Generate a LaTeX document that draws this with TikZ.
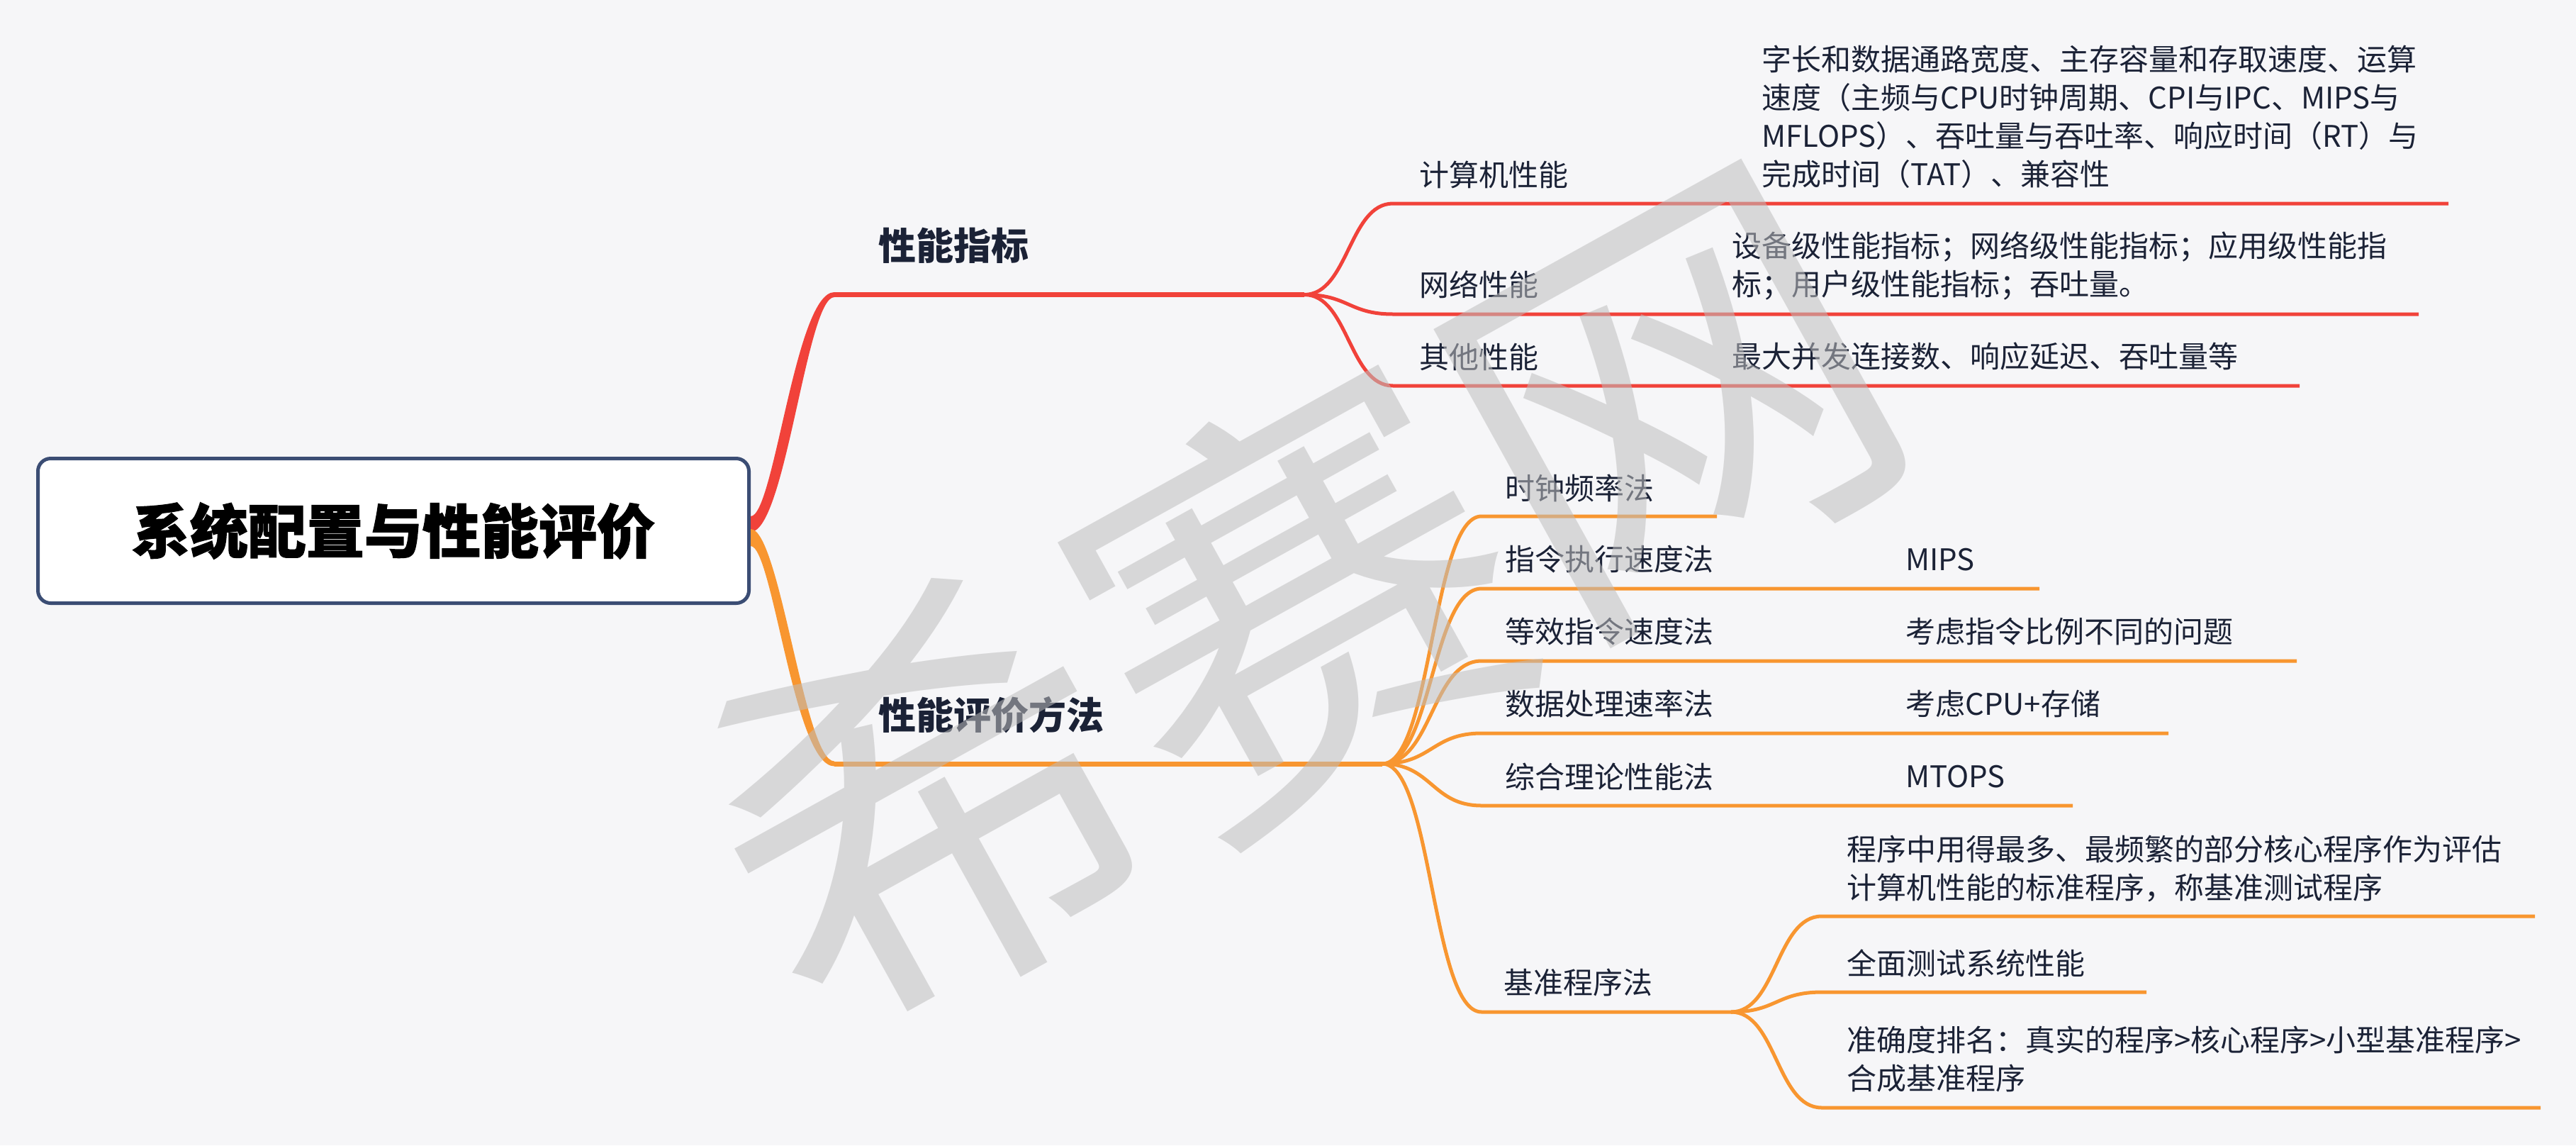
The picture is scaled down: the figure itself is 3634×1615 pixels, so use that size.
\documentclass[tikz,border=0pt]{standalone}
\usepackage{fontspec}
\setmainfont{Noto Sans CJK SC}
\usetikzlibrary{calc}
\definecolor{bgc}{RGB}{246,246,248}
\definecolor{redc}{RGB}{241,66,58}
\definecolor{orgc}{RGB}{248,150,48}
\definecolor{txtc}{RGB}{27,34,54}
\definecolor{boxc}{RGB}{59,77,116}
\definecolor{wmc}{RGB}{190,190,190}

\begin{document}
\begin{tikzpicture}[x=1pt, y=-1pt,
    rootbox/.style={draw=boxc, line width=5pt, fill=white, rounded corners=18pt,
        minimum width=1003pt, minimum height=204pt, inner sep=0pt,
        font=\bfseries\fontsize{82}{90}\selectfont\addfontfeature{FakeBold=1.6}},
    l1/.style={anchor=west, inner sep=0pt, text=txtc, font=\bfseries\fontsize{53}{60}\selectfont},
    lbl/.style={anchor=west, inner sep=0pt, text=txtc, align=left, font=\fontsize{42}{54}\selectfont},
    redln/.style={draw=redc, line width=5pt},
    orgln/.style={draw=orgc, line width=5pt},
    fan/.style={to path={.. controls +(#1,0) and +(-#1,0) .. (\tikztotarget)}},
    wmark/.style={text=wmc, opacity=0.54, inner sep=0pt, font=\fontsize{600}{600}\selectfont}
]
\useasboundingbox (0,0) rectangle (3634,1615);
\fill[bgc] (0,0) rectangle (3634,1615);

% root
\node[rootbox] (root) at (555,748.5) {系统配置与性能评价};

% hubs
\coordinate (redL) at (1177,415.5);
\coordinate (hubA) at (1840,415.5);
\coordinate (orgL) at (1177,1077);
\coordinate (hubB) at (1950,1077);
\coordinate (hubC) at (2442,1427);

% main branches
\fill[redc] ([yshift=20.5pt]root.east) .. controls (1092,728) and (1122,412) .. ([yshift=3.5pt]redL)
    -- ([yshift=-3.5pt]redL) .. controls (1138,419) and (1108,750) .. ([yshift=-1.5pt]root.east) -- cycle;
\fill[orgc] ([yshift=2.5pt]root.east) .. controls (1100,746) and (1135,1073.5) .. ([yshift=3.5pt]orgL)
    -- ([yshift=-3.5pt]orgL) .. controls (1120,1080.5) and (1090,770) .. ([yshift=-21.5pt]root.east) -- cycle;
\draw[redc, line width=7pt] (redL) -- (hubA);
\draw[orgc, line width=7pt] (orgL) -- (hubB);

\node[l1] (xnzb) at (1239,346) {性能指标};
\node[l1] (xnpj) at (1239,1008) {性能评价方法};

% performance indicators
\coordinate (jsjL) at (1965,287);  \coordinate (jsjR) at (3454,287);
\coordinate (wlL) at (1965,443);   \coordinate (wlR) at (3412,443);
\coordinate (qtL) at (1965,544);   \coordinate (qtR) at (3244,544);
\draw[redln] (hubA) to[fan=62] (jsjL) -- (jsjR);
\draw[redln] (hubA) to[fan=62] (wlL) -- (wlR);
\draw[redln] (hubA) to[fan=62] (qtL) -- (qtR);

\node[lbl] (jsj) at (2002,246) {计算机性能};
\node[lbl] (jsjd) at (2485,164.5) {字长和数据通路宽度、主存容量和存取速度、运算\\速度（主频与CPU时钟周期、CPI与IPC、MIPS与\\MFLOPS）、吞吐量与吞吐率、响应时间（RT）与\\完成时间（TAT）、兼容性};
\node[lbl] (wl) at (2002,401) {网络性能};
\node[lbl] (wld) at (2443,374.5) {设备级性能指标；网络级性能指标；应用级性能指\\标；用户级性能指标；吞吐量。};
\node[lbl] (qt) at (2002,503) {其他性能};
\node[lbl] (qtd) at (2443,503) {最大并发连接数、响应延迟、吞吐量等};

% evaluation methods
\coordinate (szplL) at (2090,728);  \coordinate (szplR) at (2422,728);
\coordinate (zlzxL) at (2090,830);  \coordinate (zlzxR) at (2877,830);
\coordinate (dxzlL) at (2090,932);  \coordinate (dxzlR) at (3240,932);
\coordinate (sjclL) at (2090,1034); \coordinate (sjclR) at (3059,1034);
\coordinate (zhllL) at (2090,1136); \coordinate (zhllR) at (2924,1136);
\coordinate (jzcxL) at (2090,1427);
\foreach \m in {szpl,zlzx,dxzl,sjcl,zhll}
    \draw[orgln] (hubB) to[fan=70] (\m L) -- (\m R);
\draw[orgln] (hubB) to[fan=70] (jzcxL) -- (hubC);

\node[lbl] (szpl) at (2123,688) {时钟频率法};
\node[lbl] (zlzx) at (2123,789) {指令执行速度法};
\node[lbl] (zlzxd) at (2688,789) {MIPS};
\node[lbl] (dxzl) at (2123,891) {等效指令速度法};
\node[lbl] (dxzld) at (2688,891) {考虑指令比例不同的问题};
\node[lbl] (sjcl) at (2123,992) {数据处理速率法};
\node[lbl] (sjcld) at (2688,992) {考虑CPU+存储};
\node[lbl] (zhll) at (2123,1095) {综合理论性能法};
\node[lbl] (zhlld) at (2688,1095) {MTOPS};
\node[lbl] (jzcx) at (2121,1385) {基准程序法};

% benchmark children
\coordinate (jzAL) at (2570,1292); \coordinate (jzAR) at (3576,1292);
\coordinate (jzBL) at (2570,1399); \coordinate (jzBR) at (3028,1399);
\coordinate (jzCL) at (2570,1562); \coordinate (jzCR) at (3584,1562);
\foreach \m in {jzA,jzB,jzC}
    \draw[orgln] (hubC) to[fan=64] (\m L) -- (\m R);

\node[lbl] (jzA) at (2605,1224.5) {程序中用得最多、最频繁的部分核心程序作为评估\\计算机性能的标准程序，称基准测试程序};
\node[lbl] (jzB) at (2605,1358) {全面测试系统性能};
\node[lbl] (jzC) at (2605,1493.5) {准确度排名：真实的程序>核心程序>小型基准程序>\\合成基准程序};

% watermark
\node[wmark, rotate=29] (wm) at (1830,844) {希赛网};
\end{tikzpicture}
\end{document}
